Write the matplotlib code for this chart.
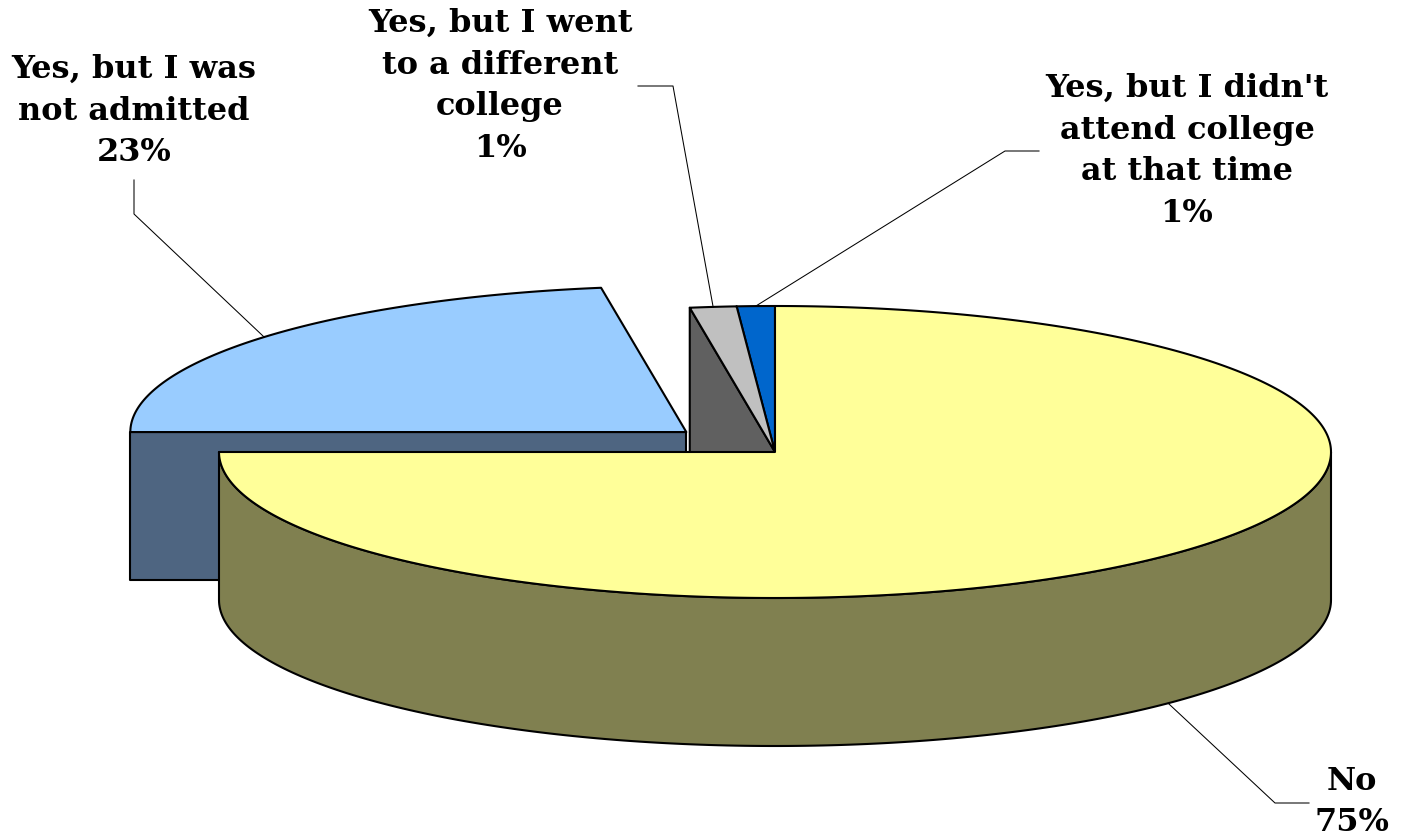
import numpy as np
import matplotlib
matplotlib.use("Agg")
import matplotlib.pyplot as plt
from matplotlib.patches import Polygon

# ---- data (clockwise from 12 o'clock) ----
categories = ["No", "Yes, but I was\nnot admitted", "Yes, but I went\nto a different\ncollege",
              "Yes, but I didn't\nattend college\nat that time"]
values = [75.0, 22.55, 1.35, 1.1]
explode = [0.0, 0.21, 0.0, 0.0]
top_colors = ["#FFFF99", "#99CCFF", "#C0C0C0", "#0066CC"]
side_colors = ["#808050", "#4E6581", "#606060", "#003366"]

# ---- layout (pixels) ----
W, H = 1401, 839
CX, CY = 775, 452
RX, RY = 556, 146
DEPTH = 148
label_pos = [(1352, 802), (134, 111), (500, 86), (1187, 151)]
leader_elbows = [[(1275, 803), (1309, 803)],
                 [(134, 214), (134, 180)],
                 [(673, 86), (638, 86)],
                 [(1005, 151), (1039, 151)]]

fig = plt.figure(figsize=(W / 100, H / 100), dpi=100)
ax = fig.add_axes([0, 0, 1, 1])
ax.set_xlim(0, W)
ax.set_ylim(H, 0)
ax.axis("off")

LW = 1.5


def pt(theta_deg, ox, oy, z=0.0):
    t = np.radians(theta_deg)
    return (CX + ox + RX * np.cos(t), CY + oy - RY * np.sin(t) + z)


# angles (counter-clockwise math degrees); slices go clockwise from 90
total = sum(values)
slices = []
start = 90.0
for v, e in zip(values, explode):
    span = 360.0 * v / total
    a_hi = start
    a_lo = start - span
    mid = (a_hi + a_lo) / 2
    ox = e * RX * np.cos(np.radians(mid))
    oy = -e * RY * np.sin(np.radians(mid))
    slices.append(dict(lo=a_lo, hi=a_hi, mid=mid, ox=ox, oy=oy))
    start = a_lo


def draw_slice(i, z0):
    s = slices[i]
    lo, hi, ox, oy = s["lo"], s["hi"], s["ox"], s["oy"]
    tip = (CX + ox, CY + oy)
    # radial faces that face the viewer
    for ang, normal in ((lo, lo - 90), (hi, hi + 90)):
        if np.sin(np.radians(normal)) < -1e-6:
            p1 = pt(ang, ox, oy)
            poly = [tip, p1, (p1[0], p1[1] + DEPTH), (tip[0], tip[1] + DEPTH)]
            ax.add_patch(Polygon(poly, closed=True, fc=side_colors[i], ec="black",
                                 lw=LW, joinstyle="round", zorder=z0))
    # outer wall (front half: angles between 180 and 360 mod 360)
    lo_n = lo % 360
    hi_n = lo_n + (hi - lo)
    segs = []
    for base in (-360, 0, 360):
        a = max(lo_n, 180 + base)
        b = min(hi_n, 360 + base)
        if b > a + 1e-6:
            segs.append((a, b))
    for a, b in segs:
        th = np.linspace(a, b, 200)
        topc = [pt(t, ox, oy) for t in th]
        botc = [pt(t, ox, oy, DEPTH) for t in th[::-1]]
        ax.add_patch(Polygon(topc + botc, closed=True, fc=side_colors[i], ec="black",
                             lw=LW, joinstyle="round", zorder=z0 + 1))
    # top face
    th = np.linspace(hi, lo, 400)
    poly = [tip] + [pt(t, ox, oy) for t in th]
    ax.add_patch(Polygon(poly, closed=True, fc=top_colors[i], ec="black",
                         lw=LW, joinstyle="round", zorder=z0 + 2))


# painter's order: back-left slice, small slices, then the big front slice
draw_slice(1, 1)
draw_slice(3, 4)
draw_slice(2, 7)
draw_slice(0, 10)

# labels and leader lines
for i, (name, v) in enumerate(zip(categories, values)):
    s = slices[i]
    z = DEPTH if i == 0 else 0.0
    anchor = pt(s["mid"], s["ox"], s["oy"], z)
    xs = [anchor[0]] + [p[0] for p in leader_elbows[i]]
    ys = [anchor[1]] + [p[1] for p in leader_elbows[i]]
    ax.plot(xs, ys, color="black", lw=0.75, zorder=20)
    ax.text(label_pos[i][0], label_pos[i][1], f"{name}\n{round(v):.0f}%",
            ha="center", va="center", multialignment="center",
            family="DejaVu Serif", fontweight="bold", fontsize=23,
            linespacing=1.45, color="black", zorder=21)

fig.savefig("out.png", dpi=100, facecolor="white")
